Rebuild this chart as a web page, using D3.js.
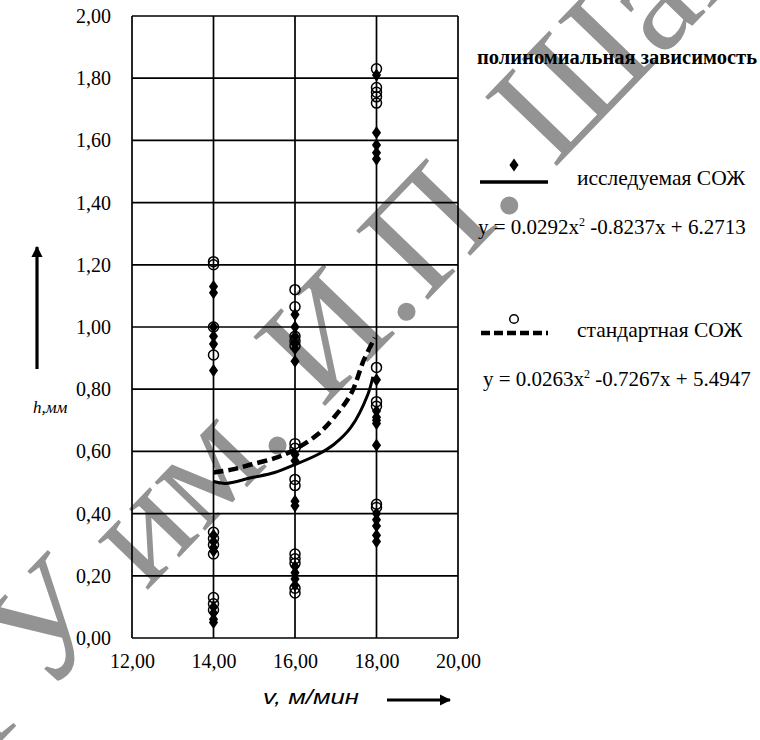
<!DOCTYPE html>
<html>
<head>
<meta charset="utf-8">
<script src="https://cdn.jsdelivr.net/npm/d3@7/dist/d3.min.js"></script>
<style>
  html, body { margin: 0; padding: 0; background: #fff; }
  svg { display: block; }
</style>
</head>
<body>
<svg id="chart" width="760" height="740"></svg>
<script>
// Cutting speed (m/min) and wear h (mm) for the studied coolant (diamonds)
const studiedX = [14,14,14,14,14,14, 14,14,14,14, 14,14,14,14,
                  16,16,16,16,16,16, 16,16,16,16, 16,16,16,16,
                  18,18,18,18,18, 18,18,18,18,18,18, 18,18,18,18,18];
const studiedY = [1.13,1.11,1.00,0.97,0.945,0.86, 0.33,0.31,0.29,0.28, 0.10,0.08,0.06,0.05,
                  1.04,1.00,0.97,0.95,0.93,0.89, 0.59,0.57,0.44,0.425, 0.23,0.21,0.19,0.17,
                  1.81,1.625,1.585,1.56,1.54, 0.83,0.73,0.71,0.70,0.69,0.62, 0.40,0.38,0.36,0.33,0.31];
// Same measurements for the standard coolant (open circles)
const standardX = [14,14,14,14, 14,14,14,14, 14,14,14,
                   16,16,16,16,16, 16,16,16,16, 16,16,16,16,16,
                   18,18,18,18,18, 18,18,18, 18,18];
const standardY = [1.21,1.20,1.00,0.91, 0.34,0.32,0.30,0.27, 0.13,0.11,0.09,
                   1.12,1.065,0.97,0.955,0.94, 0.625,0.61,0.51,0.49, 0.27,0.255,0.24,0.16,0.145,
                   1.83,1.77,1.755,1.74,1.72, 0.87,0.76,0.745, 0.43,0.42];
// Trend curves as plotted (x, h)
const studiedCurveX = [14.0, 14.3, 14.92, 15.5, 15.95, 16.56, 16.96, 17.37, 17.79, 17.91];
const studiedCurveY = [0.503, 0.497, 0.515, 0.532, 0.555, 0.59, 0.623, 0.677, 0.784, 0.84];
const standardCurveX = [14.0, 14.5, 14.92, 15.5, 15.95, 16.56, 16.96, 17.37, 17.69, 17.96];
const standardCurveY = [0.532, 0.543, 0.558, 0.578, 0.603, 0.655, 0.71, 0.784, 0.894, 0.965];
// Axis ticks
const xTicks = [12, 14, 16, 18, 20];
const yTicks = [0, 0.2, 0.4, 0.6, 0.8, 1.0, 1.2, 1.4, 1.6, 1.8, 2.0];
// Legend texts
const legendTitle = "полиномиальная зависимость";
const seriesNames = ["исследуемая СОЖ", "стандартная СОЖ"];
const eqStudied = ["y = 0.0292x", "2", " -0.8237x + 6.2713"];
const eqStandard = ["y = 0.0263x", "2", " -0.7267x + 5.4947"];
const stampText = "ДГУ им. И.П. Шамиля";

const svg = d3.select("#chart");
const serif = "'Liberation Serif', 'Times New Roman', serif";
const x = d3.scaleLinear().domain([12, 20]).range([132, 458]);
const y = d3.scaleLinear().domain([0, 2]).range([638, 16]);
const fmt = v => d3.format(".2f")(v).replace(".", ",");

// Library stamp running diagonally under the chart
const stampSize = 152, stampAngle = -46;
const stamp = svg.append("text")
  .attr("font-family", serif).attr("font-size", stampSize).attr("fill", "#939393")
  .text(stampText);
{
  const node = stamp.node();
  const i = stampText.indexOf(".");
  const s = node.getStartPositionOfChar(i).x;
  const e = node.getEndPositionOfChar(i).x;
  const px = (s + e) / 2, py = -0.05 * stampSize;
  const a = stampAngle * Math.PI / 180;
  const rx = px * Math.cos(a) - py * Math.sin(a);
  const ry = px * Math.sin(a) + py * Math.cos(a);
  // the first period sits at (277, 445)
  stamp.attr("transform", `translate(${277 - rx},${445 - ry}) rotate(${stampAngle})`);
}

// Grid and frame
const grid = svg.append("g");
grid.selectAll("line.v").data(xTicks).join("line")
  .attr("x1", d => x(d)).attr("x2", d => x(d))
  .attr("y1", y(0)).attr("y2", y(2))
  .attr("stroke", "#000").attr("stroke-width", 1.7);
grid.selectAll("line.h").data(yTicks).join("line")
  .attr("x1", x(12)).attr("x2", x(20))
  .attr("y1", d => y(d)).attr("y2", d => y(d))
  .attr("stroke", "#000").attr("stroke-width", 1.7);

// Axes (labels only, the grid acts as ticks)
const xAxis = d3.axisBottom(x).tickValues(xTicks).tickFormat(fmt).tickSize(0).tickPadding(16);
const gx = svg.append("g").attr("transform", `translate(0,${y(0)})`).call(xAxis);
gx.select(".domain").remove();
gx.selectAll("text").attr("font-family", serif).attr("font-size", 20).attr("fill", "#000");

const yAxis = d3.axisLeft(y).tickValues(yTicks).tickFormat(fmt).tickSize(0).tickPadding(21);
const gy = svg.append("g").attr("transform", `translate(${x(12)},0)`).call(yAxis);
gy.select(".domain").remove();
gy.selectAll("text").attr("font-family", serif).attr("font-size", 20).attr("fill", "#000");

// Trend curves
const line = d3.line().x(d => x(d[0])).y(d => y(d[1])).curve(d3.curveCatmullRom.alpha(0.5));
svg.append("path").datum(d3.zip(studiedCurveX, studiedCurveY))
  .attr("d", line).attr("fill", "none").attr("stroke", "#000").attr("stroke-width", 3);
svg.append("path").datum(d3.zip(standardCurveX, standardCurveY))
  .attr("d", line).attr("fill", "none").attr("stroke", "#000").attr("stroke-width", 4.5)
  .attr("stroke-dasharray", "10,5");

// Markers
const diamond = d3.symbol().type(d3.symbolDiamond).size(50);
svg.append("g").selectAll("path").data(d3.zip(studiedX, studiedY)).join("path")
  .attr("d", diamond)
  .attr("transform", d => `translate(${x(d[0])},${y(d[1])}) scale(1.2,1)`)
  .attr("fill", "#000");
svg.append("g").selectAll("circle").data(d3.zip(standardX, standardY)).join("circle")
  .attr("cx", d => x(d[0])).attr("cy", d => y(d[1])).attr("r", 5)
  .attr("fill", "none").attr("stroke", "#000").attr("stroke-width", 1.5);

// Legend
svg.append("text").attr("x", 477).attr("y", 64).attr("font-family", serif)
  .attr("font-size", 20).attr("font-weight", "bold").attr("textLength", 280)
  .attr("lengthAdjust", "spacingAndGlyphs").text(legendTitle);

svg.append("line").attr("x1", 480).attr("x2", 548).attr("y1", 182).attr("y2", 182)
  .attr("stroke", "#000").attr("stroke-width", 3.5);
svg.append("path").attr("d", diamond).attr("transform", "translate(514,165) scale(1.2,1)").attr("fill", "#000");
svg.append("text").attr("x", 577).attr("y", 185).attr("font-family", serif)
  .attr("font-size", 21.5).text(seriesNames[0]);

svg.append("line").attr("x1", 481).attr("x2", 548).attr("y1", 333).attr("y2", 333)
  .attr("stroke", "#000").attr("stroke-width", 4.5).attr("stroke-dasharray", "9,4");
svg.append("circle").attr("cx", 514).attr("cy", 319).attr("r", 4.3)
  .attr("fill", "none").attr("stroke", "#000").attr("stroke-width", 1.5);
svg.append("text").attr("x", 577).attr("y", 337).attr("font-family", serif)
  .attr("font-size", 21.5).text(seriesNames[1]);

function equation(parts, px, py) {
  const t = svg.append("text").attr("x", px).attr("y", py)
    .attr("font-family", serif).attr("font-size", 21);
  t.append("tspan").text(parts[0]);
  t.append("tspan").attr("dy", -8).attr("font-size", 12).text(parts[1]);
  t.append("tspan").attr("dy", 8).text(parts[2]);
}
equation(eqStudied, 478, 234);
equation(eqStandard, 483, 386);

// Axis titles with arrows
svg.append("defs").append("marker").attr("id", "arrow")
  .attr("viewBox", "0 0 10 10").attr("refX", 9).attr("refY", 5)
  .attr("markerWidth", 3.6).attr("markerHeight", 3.6).attr("orient", "auto")
  .append("path").attr("d", "M0,0L10,5L0,10z").attr("fill", "#000");

svg.append("line").attr("x1", 37).attr("x2", 37).attr("y1", 369).attr("y2", 247)
  .attr("stroke", "#000").attr("stroke-width", 3.2).attr("marker-end", "url(#arrow)");
svg.append("text").attr("x", 33).attr("y", 413).attr("font-family", serif)
  .attr("font-style", "italic").attr("font-size", 17).text("h,мм");

svg.append("text").attr("x", 263).attr("y", 704).attr("font-family", "'Liberation Sans', Arial, sans-serif")
  .attr("font-style", "italic").attr("font-size", 20).attr("textLength", 96)
  .attr("lengthAdjust", "spacingAndGlyphs").text("v, м/мин");
svg.append("line").attr("x1", 387).attr("x2", 450).attr("y1", 700).attr("y2", 700)
  .attr("stroke", "#000").attr("stroke-width", 3.2).attr("marker-end", "url(#arrow)");
</script>
</body>
</html>
